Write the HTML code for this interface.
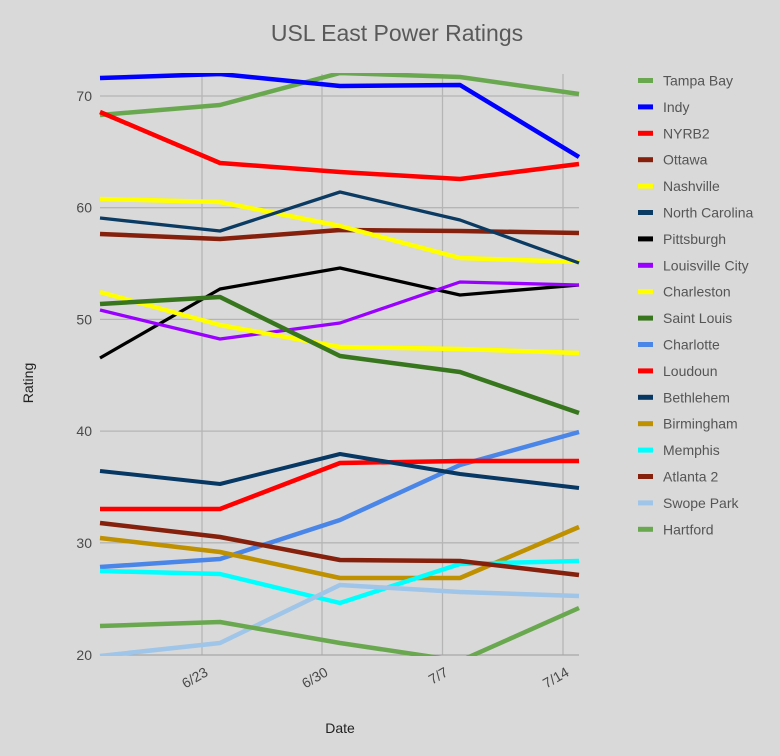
<!DOCTYPE html>
<html><head><meta charset="utf-8"><style>
html,body{margin:0;padding:0;background:#d9d9d9;}
svg{display:block;font-family:"Liberation Sans",Arial,sans-serif;}
</style></head><body>
<svg width="780" height="756" viewBox="0 0 780 756" xmlns="http://www.w3.org/2000/svg">
<rect width="780" height="756" fill="#d9d9d9"/>
<text x="397" y="41" text-anchor="middle" font-size="23" fill="#595959">USL East Power Ratings</text>
<defs><clipPath id="c"><rect x="98" y="73" width="484" height="583"/></clipPath></defs>
<g stroke="#b5b5b5" stroke-width="1.3">
<line x1="100" y1="96" x2="579" y2="96"/>
<line x1="100" y1="207.7" x2="579" y2="207.7"/>
<line x1="100" y1="319.4" x2="579" y2="319.4"/>
<line x1="100" y1="431.1" x2="579" y2="431.1"/>
<line x1="100" y1="542.8" x2="579" y2="542.8"/>
<line x1="202" y1="74" x2="202" y2="655"/>
<line x1="322" y1="74" x2="322" y2="655"/>
<line x1="442.5" y1="74" x2="442.5" y2="655"/>
<line x1="563" y1="74" x2="563" y2="655"/>
</g>
<line x1="100" y1="655" x2="579" y2="655" stroke="#a8a8a8" stroke-width="1.3"/>
<g font-size="14" fill="#4a4a4a" text-anchor="end">
<text x="92" y="101">70</text>
<text x="92" y="212.7">60</text>
<text x="92" y="324.4">50</text>
<text x="92" y="436.1">40</text>
<text x="92" y="547.8">30</text>
<text x="92" y="660">20</text>
<text transform="translate(209,675) rotate(-30)">6/23</text>
<text transform="translate(329,675) rotate(-30)">6/30</text>
<text transform="translate(449,675) rotate(-30)">7/7</text>
<text transform="translate(570,675) rotate(-30)">7/14</text>
</g>
<text x="340" y="733" text-anchor="middle" font-size="14" fill="#222">Date</text>
<text transform="translate(33,383) rotate(-90)" text-anchor="middle" font-size="14" fill="#222">Rating</text>
<g clip-path="url(#c)" fill="none" stroke-linejoin="round" stroke-linecap="butt">
<polyline stroke="#6aa84f" stroke-width="4.5" points="100,115 220,105 340,73 460,77 579,94"/>
<polyline stroke="#0000ff" stroke-width="4.5" points="100,78 220,74 340,86 460,85 579,157"/>
<polyline stroke="#ff0000" stroke-width="4.5" points="100,112 220,163 340,172 460,179 579,164"/>
<polyline stroke="#85200c" stroke-width="4.5" points="100,234 220,239 340,230 460,231 579,233"/>
<polyline stroke="#ffff00" stroke-width="4.5" points="100,199 220,202 340,226 460,258 579,262"/>
<polyline stroke="#0b3b62" stroke-width="3.3" points="100,218 220,231 340,192 460,220 579,263"/>
<polyline stroke="#000000" stroke-width="3.3" points="100,358 220,289 340,268 460,295 579,285"/>
<polyline stroke="#9900ff" stroke-width="3.3" points="100,310 220,339 340,323 460,282 579,285"/>
<polyline stroke="#ffff00" stroke-width="4.5" points="100,292 220,325 340,347 460,349 579,353"/>
<polyline stroke="#38761d" stroke-width="4.5" points="100,304 220,297 340,356 460,372 579,413"/>
<polyline stroke="#4a86e8" stroke-width="4.5" points="100,567 220,559 340,520 460,465 579,432"/>
<polyline stroke="#ff0000" stroke-width="4.5" points="100,509 220,509 340,463 460,461 579,461"/>
<polyline stroke="#073763" stroke-width="4" points="100,471 220,484 340,454 460,474 579,488"/>
<polyline stroke="#bf9000" stroke-width="4.5" points="100,538 220,552 340,578 460,578 579,527"/>
<polyline stroke="#00ffff" stroke-width="4.5" points="100,571 220,574 340,603 460,564 579,561"/>
<polyline stroke="#85200c" stroke-width="4.5" points="100,523 220,537 340,560 460,561 579,575"/>
<polyline stroke="#9fc5e8" stroke-width="4.5" points="100,656 220,643 340,585 460,592 579,596"/>
<polyline stroke="#6aa84f" stroke-width="4.5" points="100,626 220,622 340,643 460,661 579,608"/>
</g>
<g font-size="14" fill="#555">
<rect x="638" y="78" width="15" height="5" fill="#6aa84f"/><text x="663" y="85.5">Tampa Bay</text>
<rect x="638" y="104.4" width="15" height="5" fill="#0000ff"/><text x="663" y="111.9">Indy</text>
<rect x="638" y="130.8" width="15" height="5" fill="#ff0000"/><text x="663" y="138.3">NYRB2</text>
<rect x="638" y="157.2" width="15" height="5" fill="#85200c"/><text x="663" y="164.7">Ottawa</text>
<rect x="638" y="183.6" width="15" height="5" fill="#ffff00"/><text x="663" y="191.1">Nashville</text>
<rect x="638" y="210" width="15" height="5" fill="#0b3b62"/><text x="663" y="217.5">North Carolina</text>
<rect x="638" y="236.4" width="15" height="5" fill="#000000"/><text x="663" y="243.9">Pittsburgh</text>
<rect x="638" y="262.8" width="15" height="5" fill="#9900ff"/><text x="663" y="270.3">Louisville City</text>
<rect x="638" y="289.2" width="15" height="5" fill="#ffff00"/><text x="663" y="296.7">Charleston</text>
<rect x="638" y="315.6" width="15" height="5" fill="#38761d"/><text x="663" y="323.1">Saint Louis</text>
<rect x="638" y="342" width="15" height="5" fill="#4a86e8"/><text x="663" y="349.5">Charlotte</text>
<rect x="638" y="368.4" width="15" height="5" fill="#ff0000"/><text x="663" y="375.9">Loudoun</text>
<rect x="638" y="394.8" width="15" height="5" fill="#073763"/><text x="663" y="402.3">Bethlehem</text>
<rect x="638" y="421.2" width="15" height="5" fill="#bf9000"/><text x="663" y="428.7">Birmingham</text>
<rect x="638" y="447.6" width="15" height="5" fill="#00ffff"/><text x="663" y="455.1">Memphis</text>
<rect x="638" y="474" width="15" height="5" fill="#85200c"/><text x="663" y="481.5">Atlanta 2</text>
<rect x="638" y="500.4" width="15" height="5" fill="#9fc5e8"/><text x="663" y="507.9">Swope Park</text>
<rect x="638" y="526.8" width="15" height="5" fill="#6aa84f"/><text x="663" y="534.3">Hartford</text>
</g>
</svg>
</body></html>
